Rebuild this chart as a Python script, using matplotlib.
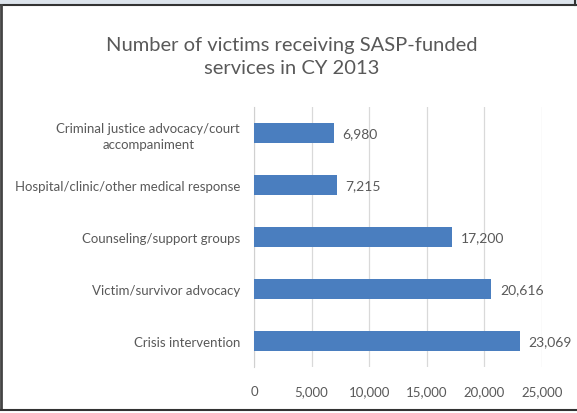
import matplotlib
matplotlib.use("Agg")
import matplotlib.pyplot as plt
from matplotlib.patches import Rectangle
from matplotlib.lines import Line2D

categories = ["Crisis intervention", "Victim/survivor advocacy", "Counseling/support groups",
              "Hospital/clinic/other medical response", "Criminal justice advocacy/court\naccompaniment"]
values = [23069, 20616, 17200, 7215, 6980]
value_labels = ["23,069", "20,616", "17,200", "7,215", "6,980"]
xticks = [0, 5000, 10000, 15000, 20000, 25000]
xtick_labels = ["0", "5,000", "10,000", "15,000", "20,000", "25,000"]
title = "Number of victims receiving SASP-funded\nservices in CY 2013"

plt.rcParams['font.family'] = ['Lato', 'DejaVu Sans']
text_color = "#595959"
bar_color = "#4a7ebf"

fig = plt.figure(figsize=(5.77, 4.14), dpi=100)
W, H = 577, 414

# screenshot frame
fig.patches.append(Rectangle((0, 1 - 5 / H), 1, 5 / H, transform=fig.transFigure,
                             facecolor="#dde4ec", edgecolor="none", zorder=0))
fig.lines.append(Line2D([0, 1], [1 - 5.5 / H, 1 - 5.5 / H], transform=fig.transFigure, color="#333333", lw=1.5))
fig.lines.append(Line2D([1 / W, 1 / W], [4 / H, 1 - 5.5 / H], transform=fig.transFigure, color="#444444", lw=2))
fig.lines.append(Line2D([0, 1], [3.5 / H, 3.5 / H], transform=fig.transFigure, color="#333333", lw=1.5))
fig.lines.append(Line2D([1 - 2 / W, 1 - 2 / W], [1 - 5.5 / H, 1], transform=fig.transFigure, color="#333333", lw=1.5))

ax = fig.add_axes([254 / W, 1 - 368 / H, 288 / W, 260 / H])
y = list(range(len(categories)))
ax.barh(y, values, height=0.39, color=bar_color, zorder=3)
ax.set_ylim(-0.5, len(categories) - 0.5)
ax.set_xlim(0, 25000)
ax.set_xticks(xticks)
ax.set_xticklabels(xtick_labels)
ax.set_yticks(y)
ax.set_yticklabels(categories, multialignment="center", linespacing=1.45)
ax.tick_params(axis="both", length=0, colors=text_color, labelsize=9.5)
ax.tick_params(axis="x", pad=13)
ax.tick_params(axis="y", pad=10)
ax.grid(axis="x", color="#d9d9d9", lw=0.9, zorder=0)
for s in ["top", "right", "bottom"]:
    ax.spines[s].set_visible(False)
ax.spines["left"].set_color("#d0d0d0")
for yi, v, lab in zip(y, values, value_labels):
    ax.annotate(lab, (v, yi), xytext=(6, 0), textcoords="offset points",
                va="center", ha="left", color=text_color, fontsize=10)

fig.text(292 / W, 1 - 57 / H, title, ha="center", va="center", fontsize=14.5,
         color=text_color, linespacing=1.4)

fig.savefig("out.png", dpi=100)
